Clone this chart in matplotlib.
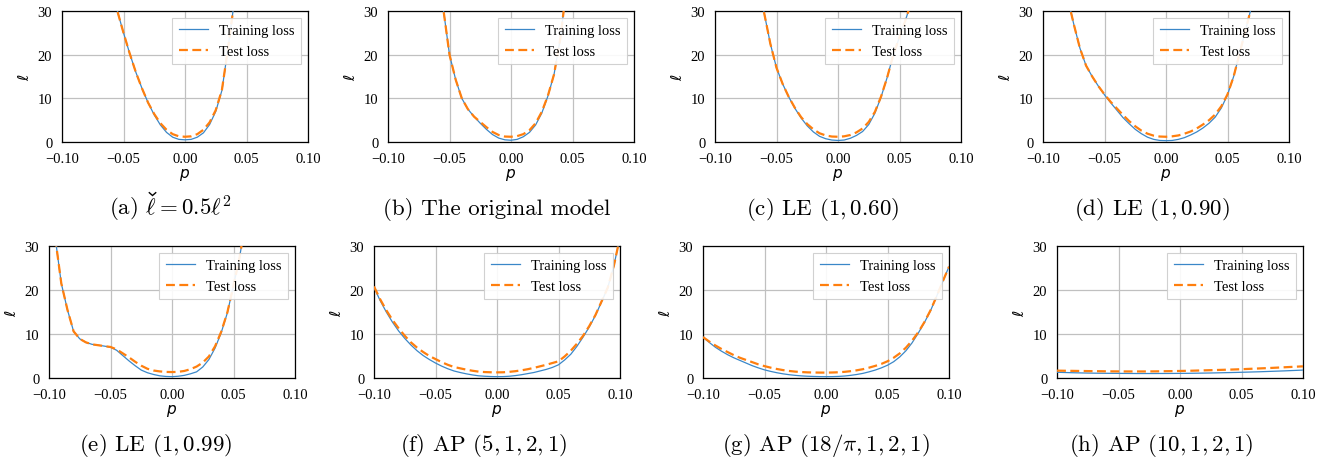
import numpy as np
import matplotlib
matplotlib.use("Agg")
import matplotlib.pyplot as plt
from matplotlib.lines import Line2D
from matplotlib.ticker import FixedLocator, FixedFormatter

# ---------------- data ----------------
p = [round(-0.100 + 0.005 * i, 3) for i in range(41)]
x_ticks = [-0.10, -0.05, 0.00, 0.05, 0.10]
x_ticklabels = ["\u22120.10", "\u22120.05", "0.00", "0.05", "0.10"]
y_ticks = [0, 10, 20, 30]
y_ticklabels = ["0", "10", "20", "30"]

# caption (a) is "(a) ℓ̌ = 0.5ℓ²": the caron over the first ℓ is drawn separately
captions = [r"(a) $\ell = 0.5\ell^2$",
            "(b) The original model",
            r"(c) LE $(1, 0.60)$",
            r"(d) LE $(1, 0.90)$",
            r"(e) LE $(1, 0.99)$",
            r"(f) AP $(5, 1, 2, 1)$",
            r"(g) AP $(18/\pi, 1, 2, 1)$",
            r"(h) AP $(10, 1, 2, 1)$"]

a_train = [100, 90, 81, 72, 64, 56, 48, 41.5, 35.5, 30,
           25, 20.3, 16, 12.3, 9, 6.2, 3.9, 2.2, 1.1, 0.6,
           0.5, 0.6, 1.1, 2.1, 4.0, 7.0, 11.8, 21.5, 32, 45,
           62, 80, 100, 120, 140, 160, 180, 200, 220, 240, 260]
a_test = [100, 90, 81, 72, 64, 56, 48, 41.5, 35.5, 30,
          25, 20.3, 16, 12.3, 9, 6.4, 4.3, 2.8, 1.8, 1.3,
          1.2, 1.3, 1.8, 2.8, 4.5, 7.3, 11.9, 21.5, 32, 45,
          62, 80, 100, 120, 140, 160, 180, 200, 220, 240, 260]

b_train = [130, 115, 100, 87, 75, 64, 55, 47, 39, 30.4,
           20, 14.3, 10, 7.5, 5.8, 4.3, 2.9, 1.7, 0.9, 0.5,
           0.4, 0.6, 1.2, 2.2, 3.9, 6.6, 10.5, 15.5, 23.5, 35,
           50, 65, 80, 95, 110, 125, 140, 155, 170, 185, 200]
b_test = [130, 115, 100, 87, 75, 64, 55, 47, 39, 30.4,
          20, 14.3, 10, 7.5, 5.8, 4.6, 3.4, 2.3, 1.6, 1.25,
          1.2, 1.35, 1.8, 2.7, 4.3, 6.9, 10.6, 15.5, 23.5, 35,
          50, 65, 80, 95, 110, 125, 140, 155, 170, 185, 200]

c_train = [110, 95, 82, 70, 60, 51, 44, 36.5, 29.5, 22.5,
           17, 13.3, 10.3, 7.7, 5.5, 3.7, 2.3, 1.3, 0.75, 0.45,
           0.35, 0.45, 0.85, 1.5, 2.4, 4.0, 6.6, 10.3, 14.8, 20,
           24, 28, 32.5, 38, 48, 60, 75, 90, 105, 120, 135]
c_test = [110, 95, 82, 70, 60, 51, 44, 36.5, 29.5, 22.5,
          17, 13.3, 10.3, 7.8, 5.7, 4.1, 2.9, 2.0, 1.5, 1.25,
          1.2, 1.3, 1.6, 2.2, 3.1, 4.6, 6.9, 10.4, 14.8, 20,
          24, 28, 32.5, 38, 48, 60, 75, 90, 105, 120, 135]

d_train = [75, 62, 51, 42, 33, 27, 21.5, 17.5, 15, 12.8,
           10.8, 9.0, 7.3, 5.6, 4.2, 2.9, 1.9, 1.1, 0.6, 0.35,
           0.3, 0.35, 0.6, 1.0, 1.6, 2.3, 3.2, 4.3, 5.7, 7.8,
           10.8, 15, 20.5, 26, 31.5, 40, 50, 62, 75, 90, 105]
d_test = [75, 62, 51, 42, 33, 27, 21.5, 17.5, 15, 12.8,
          10.9, 9.2, 7.7, 6.2, 4.8, 3.6, 2.6, 1.9, 1.45, 1.25,
          1.2, 1.3, 1.5, 1.9, 2.4, 3.1, 4.0, 5.0, 6.3, 8.2,
          10.9, 15, 20.5, 26, 31.5, 40, 50, 62, 75, 90, 105]

e_train = [50, 32, 21.5, 15.5, 10.6, 8.9, 8.1, 7.65, 7.45, 7.25,
           7.0, 6.3, 5.1, 3.9, 2.8, 1.8, 1.2, 0.8, 0.5, 0.35,
           0.3, 0.4, 0.6, 0.95, 1.4, 2.5, 4.2, 6.8, 10.3, 14.8,
           21, 27.5, 36, 46, 58, 72, 88, 106, 126, 148, 172]
e_test = [50, 32, 21.5, 15.5, 10.6, 8.9, 8.1, 7.65, 7.45, 7.25,
          7.05, 6.5, 5.6, 4.7, 3.7, 2.8, 2.1, 1.7, 1.5, 1.38,
          1.35, 1.4, 1.6, 2.0, 2.6, 3.5, 4.9, 7.2, 10.5, 14.9,
          21, 27.5, 36, 46, 58, 72, 88, 106, 126, 148, 172]

f_train = [20.6, 17.6, 15.0, 12.7, 10.7, 9.0, 7.5, 6.2, 5.1, 4.2,
           3.4, 2.7, 2.1, 1.6, 1.25, 0.95, 0.7, 0.5, 0.4, 0.33,
           0.3, 0.32, 0.4, 0.55, 0.75, 1.0, 1.25, 1.6, 1.95, 2.4,
           3.0, 4.1, 5.4, 7.2, 9.3, 11.6, 14.2, 17.3, 20.5, 25.5, 32]
f_test = [20.8, 17.9, 15.4, 13.2, 11.3, 9.6, 8.1, 6.9, 5.9, 5.0,
          4.3, 3.6, 3.0, 2.5, 2.2, 1.9, 1.65, 1.45, 1.35, 1.3,
          1.28, 1.3, 1.4, 1.55, 1.75, 2.0, 2.3, 2.65, 3.0, 3.4,
          3.8, 4.9, 6.2, 7.8, 9.6, 11.8, 14.3, 17.4, 20.5, 25.5, 32]

g_train = [9.3, 8.1, 7.0, 6.1, 5.3, 4.6, 4.0, 3.4, 2.8, 2.3,
           1.85, 1.5, 1.2, 0.95, 0.75, 0.6, 0.48, 0.4, 0.35, 0.31,
           0.3, 0.31, 0.36, 0.45, 0.6, 0.8, 1.05, 1.4, 1.8, 2.3,
           2.9, 3.7, 4.8, 6.2, 8.0, 10.2, 12.6, 15.3, 18.6, 22, 25.3]
g_test = [9.3, 8.3, 7.4, 6.6, 5.9, 5.2, 4.6, 4.1, 3.6, 3.1,
          2.7, 2.35, 2.05, 1.8, 1.6, 1.45, 1.35, 1.28, 1.25, 1.23,
          1.22, 1.25, 1.3, 1.4, 1.55, 1.75, 2.0, 2.35, 2.75, 3.2,
          3.8, 4.6, 5.6, 6.9, 8.5, 10.4, 12.7, 15.4, 18.6, 22, 25.3]

h_train = [1.30, 1.26, 1.22, 1.18, 1.15, 1.12, 1.10, 1.08, 1.07, 1.06,
           1.05, 1.04, 1.03, 1.02, 1.02, 1.02, 1.02, 1.03, 1.03, 1.04,
           1.05, 1.06, 1.08, 1.10, 1.12, 1.14, 1.17, 1.20, 1.23, 1.26,
           1.30, 1.34, 1.38, 1.42, 1.47, 1.52, 1.57, 1.62, 1.68, 1.74, 1.80]
h_test = [1.67, 1.65, 1.63, 1.61, 1.59, 1.57, 1.55, 1.54, 1.52, 1.51,
          1.50, 1.49, 1.49, 1.49, 1.49, 1.50, 1.51, 1.53, 1.55, 1.57,
          1.60, 1.63, 1.66, 1.70, 1.74, 1.78, 1.82, 1.86, 1.90, 1.95,
          2.00, 2.06, 2.12, 2.18, 2.24, 2.30, 2.37, 2.44, 2.51, 2.58, 2.65]

train_series = [a_train, b_train, c_train, d_train, e_train, f_train, g_train, h_train]
test_series = [a_test, b_test, c_test, d_test, e_test, f_test, g_test, h_test]

# ---------------- layout ----------------
W, H = 1326, 460
fig = plt.figure(figsize=(W / 100, H / 100), dpi=100)
plt.rcParams['font.family'] = ['Liberation Serif', 'DejaVu Serif']

lefts = [62, 388, 715, 1043, 49, 374, 703, 1057]
tops = [12, 12, 12, 12, 247, 247, 247, 247]
bottoms = [143, 143, 143, 143, 379, 379, 379, 379]
axw = 246
cap_x = [170, 497, 823, 1152, 156, 484, 826, 1161]
cap_base = [215, 215, 215, 215, 451, 451, 451, 451]
CAP_FS = 16.5
cap_kw = dict(fontsize=CAP_FS, family='cmr10', math_fontfamily='cm')

cap_texts = []
for i in range(8):
    l, t, b = lefts[i], tops[i], bottoms[i]
    ax = fig.add_axes([l / W, 1 - b / H, axw / W, (b - t) / H])
    ax.plot(p, train_series[i], color='#3a87c8', lw=0.9, label='Training loss', zorder=3)
    ax.plot(p, test_series[i], color='#ff7f0e', lw=1.6, ls='--', dashes=(4, 2),
            label='Test loss', zorder=4)
    ax.set_xlim(-0.1, 0.1)
    ax.set_ylim(0, 30)
    ax.xaxis.set_major_locator(FixedLocator(x_ticks))
    ax.xaxis.set_major_formatter(FixedFormatter(x_ticklabels))
    ax.yaxis.set_major_locator(FixedLocator(y_ticks))
    ax.yaxis.set_major_formatter(FixedFormatter(y_ticklabels))
    ax.tick_params(length=0, pad=7, labelsize=10.5)
    ax.grid(True, color='#c0c0c0', lw=0.9)
    ax.set_axisbelow(True)
    for s in ax.spines.values():
        s.set_color('black')
        s.set_linewidth(0.9)
    ax.set_xlabel('$p$', math_fontfamily='dejavusans', fontsize=11, labelpad=1)
    ax.set_ylabel(r'$\ell$', math_fontfamily='dejavusans', fontsize=11, labelpad=4)
    leg = ax.legend(loc='upper right', fontsize=10.5, fancybox=False,
                    edgecolor='#cccccc', framealpha=0.9, borderpad=0.45,
                    handlelength=2.0, borderaxespad=0.45)
    leg.get_frame().set_linewidth(0.8)
    txt = fig.text(cap_x[i] / W, 1 - cap_base[i] / H, captions[i], ha='center',
                   va='baseline', **cap_kw)
    cap_texts.append(txt)

# caron accent over the first ℓ of caption (a), drawn as a small "v"
fig.canvas.draw()
r = fig.canvas.get_renderer()
bb = cap_texts[0].get_window_extent(renderer=r)
tp = fig.text(0, 0, r"(a) $\ell$", **cap_kw)
wp = tp.get_window_extent(renderer=r).width
tp.remove()
te = fig.text(0, 0, r"$\ell$", **cap_kw)
we = te.get_window_extent(renderer=r).width
te.remove()
em = CAP_FS * 100 / 72.0
cx = bb.x0 + wp - we / 2 + 1.5
ybot = (H - cap_base[0]) + 0.72 * em + 2.0
half_w, depth = 3.2, 2.8
fig.add_artist(Line2D([(cx - half_w) / W, cx / W, (cx + half_w) / W],
                      [(ybot + depth) / H, ybot / H, (ybot + depth) / H],
                      transform=fig.transFigure, color='black', lw=1.0,
                      solid_joinstyle='miter'))

fig.savefig('out.png', dpi=100)
